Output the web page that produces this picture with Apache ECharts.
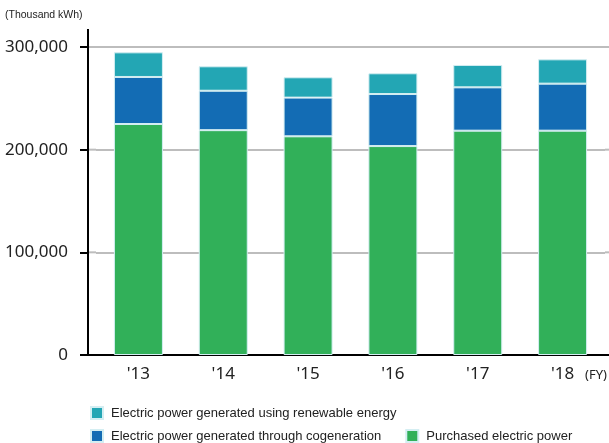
<!DOCTYPE html>
<html>
<head>
<meta charset="utf-8">
<script src="https://cdn.jsdelivr.net/npm/echarts@6/dist/echarts.min.js"></script>
<style>
html, body { margin: 0; padding: 0; background: #fff; }
#chart { width: 609px; height: 443px; }
</style>
</head>
<body>
<div id="chart"></div>
<script>
var years = ["'13", "'14", "'15", "'16", "'17", "'18"];
var purchased = [225000, 219000, 213000, 203500, 218500, 218500];
var cogeneration = [45800, 38400, 37700, 50700, 42200, 45800];
var renewable = [24000, 23800, 19800, 20200, 21800, 23700];
var yTicks = [100000, 200000, 300000];

var nameRenew = 'Electric power generated using renewable energy';
var nameCogen = 'Electric power generated through cogeneration';
var namePurch = 'Purchased electric power';

var sans = "'Liberation Sans', Arial, sans-serif";
var barBorder = { borderColor: '#d4eef2', borderWidth: 1 };

var option = {
    animation: false,
    title: {
        text: '(Thousand kWh)',
        left: 5,
        top: 10,
        padding: 0,
        textStyle: { fontFamily: sans, fontSize: 10.5, fontWeight: 'normal', color: '#222' }
    },
    grid: {
        left: 96,
        right: 4,
        top: 47,
        bottom: 88
    },
    legend: [{
        data: [nameRenew],
        left: 90,
        top: 405,
        width: 515,
        icon: 'rect',
        itemWidth: 12,
        itemHeight: 12,
        padding: 0,
        textStyle: { fontFamily: sans, fontSize: 13, color: '#222', lineHeight: 16, padding: [0, 0, 0, 3] }
    },
    {
        data: [nameCogen, namePurch],
        left: 90,
        top: 428,
        width: 515,
        icon: 'rect',
        itemWidth: 12,
        itemHeight: 12,
        itemGap: 24,
        padding: 0,
        textStyle: { fontFamily: sans, fontSize: 13, color: '#222', lineHeight: 16, padding: [0, 0, 0, 3] }
    }],
    xAxis: [{
        type: 'category',
        data: years,
        axisLine: { lineStyle: { color: '#000', width: 2 } },
        axisTick: { length: 8, lineStyle: { color: '#000', width: 2 } },
        axisLabel: { fontFamily: 'Noto Sans', fontSize: 17, color: '#222', margin: 11 }
    }],
    yAxis: [{
        type: 'value',
        min: 0,
        max: 300000,
        interval: 100000,
        offset: 8,
        axisLine: { show: true, lineStyle: { color: '#000', width: 2 } },
        axisTick: { show: true, length: 8, lineStyle: { color: '#000', width: 2 } },
        axisLabel: {
            fontFamily: 'Noto Sans', fontSize: 17, color: '#222', margin: 20,
            formatter: function (v) { return v.toLocaleString('en-US'); }
        },
        splitLine: { lineStyle: { color: '#bdbdbd', width: 2 } }
    }],
    series: [{
        name: namePurch,
        type: 'bar',
        stack: 'total',
        barWidth: 49,
        color: '#31b059',
        itemStyle: barBorder,
        data: purchased
    },
    {
        name: nameCogen,
        type: 'bar',
        stack: 'total',
        barWidth: 49,
        color: '#136cb4',
        itemStyle: barBorder,
        data: cogeneration
    },
    {
        name: nameRenew,
        type: 'bar',
        stack: 'total',
        barWidth: 49,
        color: '#23a6b4',
        itemStyle: barBorder,
        data: renewable
    }]
};

var chart = echarts.init(document.getElementById('chart'));
chart.setOption(option);

// extend axis lines and grid lines past the offset y axis, like the original
var y0 = chart.convertToPixel({ yAxisIndex: 0 }, 0);
var yTop = chart.convertToPixel({ yAxisIndex: 0 }, 300000);
var extra = [
    { type: 'line', shape: { x1: 88, y1: y0, x2: 96, y2: y0 }, style: { stroke: '#000', lineWidth: 2 } },
    { type: 'line', shape: { x1: 605, y1: y0, x2: 609, y2: y0 }, style: { stroke: '#000', lineWidth: 2 } },
    { type: 'line', shape: { x1: 88, y1: yTop - 18, x2: 88, y2: yTop }, style: { stroke: '#000', lineWidth: 2 } },
    { type: 'text', left: 585, top: 369, style: { text: '(FY)', font: '13px "Noto Sans"', fill: '#222' } }
];
yTicks.forEach(function (v) {
    var py = chart.convertToPixel({ yAxisIndex: 0 }, v);
    extra.push({ type: 'line', z: -1, shape: { x1: 89, y1: py, x2: 96, y2: py }, style: { stroke: '#bdbdbd', lineWidth: 2 } });
    extra.push({ type: 'line', z: -1, shape: { x1: 605, y1: py, x2: 609, y2: py }, style: { stroke: '#bdbdbd', lineWidth: 2 } });
});
chart.setOption({ graphic: extra });
</script>
</body>
</html>
